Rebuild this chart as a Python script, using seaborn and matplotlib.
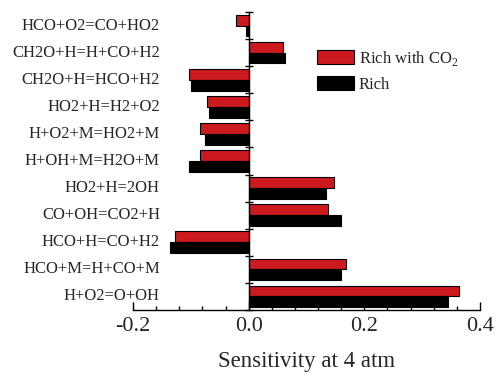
import matplotlib
matplotlib.use("Agg")
import matplotlib.pyplot as plt
import matplotlib.transforms as mtransforms
from matplotlib.patches import Patch
from matplotlib.ticker import MultipleLocator
import seaborn as sns
import pandas as pd

reactions = ["HCO+O2=CO+HO2", "CH2O+H=H+CO+H2", "CH2O+H=HCO+H2", "HO2+H=H2+O2",
             "H+O2+M=HO2+M", "H+OH+M=H2O+M", "HO2+H=2OH", "CO+OH=CO2+H",
             "HCO+H=CO+H2", "HCO+M=H+CO+M", "H+O2=O+OH"]
rich_co2 = [-0.022, 0.059, -0.103, -0.072, -0.084, -0.084, 0.147, 0.138, -0.128, 0.169, 0.364]
rich = [-0.005, 0.062, -0.100, -0.069, -0.076, -0.103, 0.134, 0.159, -0.136, 0.159, 0.345]
series = ["Rich with CO$_2$", "Rich"]
colors = ["#CC1A1E", "#000000"]

df = pd.DataFrame({
    "reaction": reactions * 2,
    "value": rich_co2 + rich,
    "case": [series[0]] * len(reactions) + [series[1]] * len(reactions),
})

sns.set_style("white")
plt.rcParams["font.family"] = ["Liberation Serif", "DejaVu Serif"]
plt.rcParams["mathtext.fontset"] = "custom"
plt.rcParams["mathtext.rm"] = "Liberation Serif"
plt.rcParams["axes.unicode_minus"] = False

fig = plt.figure(figsize=(4.96, 3.77), dpi=100)
ax = fig.add_axes([133 / 496, 1 - 310 / 377, 347 / 496, 298 / 377])

sns.barplot(data=df, x="value", y="reaction", hue="case", hue_order=series,
            palette=colors, saturation=1, orient="h", width=0.8, edgecolor="black",
            linewidth=0.8, ax=ax, legend=False)

ax.set_xlim(-0.2, 0.4)
ax.set_ylim(len(reactions) - 0.5, -0.5)
ax.spines["top"].set_visible(False)
ax.spines["right"].set_visible(False)
ax.spines["left"].set_position(("data", 0))
ax.spines["left"].set_linewidth(1.0)
ax.spines["bottom"].set_linewidth(1.0)
ax.spines["left"].set_color("black")
ax.spines["bottom"].set_color("black")

ax.set_yticks([i - 0.5 for i in range(len(reactions) + 1)])
ax.set_yticklabels([])
ax.tick_params(axis="y", direction="inout", length=6, width=1, left=True, color="black")
ax.xaxis.set_minor_locator(MultipleLocator(0.04))
ax.set_xticks([-0.2, 0.0, 0.2, 0.4])
ax.set_xticklabels(["-0.2", "0.0", "0.2", "0.4"])
ax.tick_params(axis="x", which="major", direction="in", length=6, width=1,
               bottom=True, labelsize=16, pad=5, color="black")
ax.tick_params(axis="x", which="minor", direction="in", length=3, width=1,
               bottom=True, color="black")
ax.set_ylabel("")
ax.set_xlabel("Sensitivity at 4 atm", fontsize=16.5, labelpad=11)

trans = mtransforms.blended_transform_factory(ax.transAxes, ax.transData)
for i, r in enumerate(reactions):
    ax.text(27 / 347, i, r, transform=trans, ha="right", va="center", fontsize=12)

handles = [Patch(facecolor=colors[0], edgecolor="black", linewidth=0.8),
           Patch(facecolor=colors[1], edgecolor="black", linewidth=0.8)]
ax.legend(handles, series, loc="upper left", bbox_to_anchor=(0.53, 0.877),
          frameon=False, fontsize=12, handlelength=2.2, handleheight=0.9,
          handletextpad=0.3, labelspacing=0.5, borderpad=0, borderaxespad=0)

fig.savefig("out.png", dpi=100)
